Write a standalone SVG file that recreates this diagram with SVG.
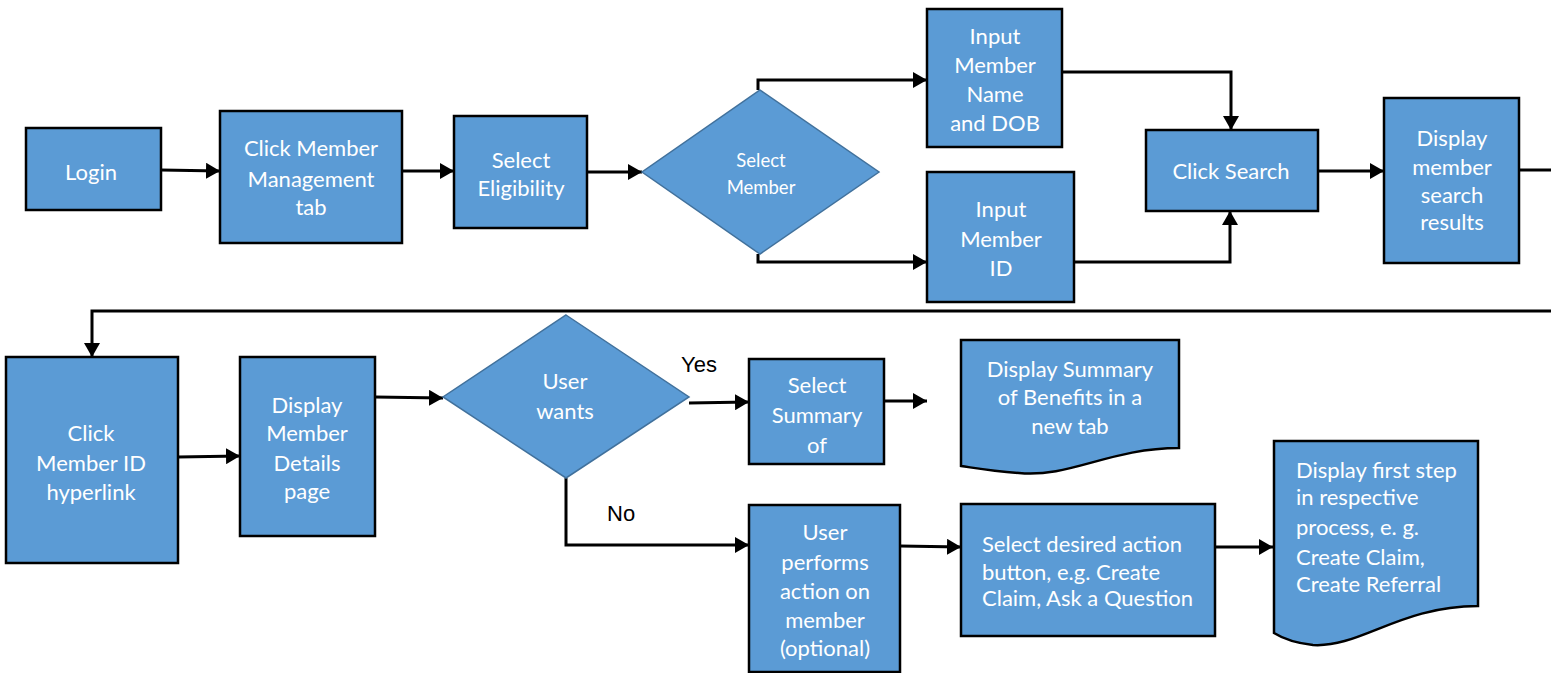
<svg xmlns="http://www.w3.org/2000/svg" width="1551" height="673" viewBox="0 0 1551 673">
<defs>
<marker id="ah" markerUnits="userSpaceOnUse" markerWidth="14" markerHeight="16" refX="14" refY="8" orient="auto">
<path d="M0,0 L14,8 L0,16 Z" fill="#000"/>
</marker>
<style>
.box{fill:#5B9BD5;stroke:#000;stroke-width:2.5}
.dia{fill:#5B9BD5;stroke:#41719C;stroke-width:1.5}
.t{font-family:Lato,"Open Sans",sans-serif;font-size:22px;fill:#fff;text-anchor:middle}
.tl{text-anchor:start}
.ts{font-size:18.5px}
.lbl{font-family:"Liberation Sans",Arial,sans-serif;font-size:22px;fill:#000}
.c{fill:none;stroke:#000;stroke-width:3}
</style>
</defs>
<rect width="1551" height="673" fill="#fff"/>
<g id="connectors">
<path class="c" d="M161,170 L220,171" marker-end="url(#ah)"/>
<path class="c" d="M402,171 L454,171" marker-end="url(#ah)"/>
<path class="c" d="M587,172 L642,172" marker-end="url(#ah)"/>
<path class="c" d="M758,90 L758,80 L927,80" marker-end="url(#ah)"/>
<path class="c" d="M758,254 L758,262 L927,262" marker-end="url(#ah)"/>
<path class="c" d="M1062,72 L1231,72 L1231,130" marker-end="url(#ah)"/>
<path class="c" d="M1074,262 L1230,262 L1230,211" marker-end="url(#ah)"/>
<path class="c" d="M1318,171 L1384,171" marker-end="url(#ah)"/>
<path class="c" d="M1519,170 L1551,170"/>
<path class="c" d="M1551,311 L92,311 L92,357" marker-end="url(#ah)"/>
<path class="c" d="M178,457 L240,456" marker-end="url(#ah)"/>
<path class="c" d="M375,397 L443,398" marker-end="url(#ah)"/>
<path class="c" d="M689,403 L749,402" marker-end="url(#ah)"/>
<path class="c" d="M884,401 L927,401" marker-end="url(#ah)"/>
<path class="c" d="M566,478 L566,545 L749,545" marker-end="url(#ah)"/>
<path class="c" d="M900,546 L961,547" marker-end="url(#ah)"/>
<path class="c" d="M1215,547 L1273,547" marker-end="url(#ah)"/>
<text class="lbl" x="681" y="372">Yes</text>
<text class="lbl" x="607" y="521">No</text>
</g>
<g id="login"><rect class="box" x="26" y="128" width="135" height="82"/><text class="t" x="91" y="180">Login</text></g>
<g id="click-mm"><rect class="box" x="220" y="111" width="182" height="132"/><text class="t" x="311" y="156">Click Member</text><text class="t" x="311" y="187">Management</text><text class="t" x="311" y="215">tab</text></g>
<g id="select-elig"><rect class="box" x="454" y="116" width="133" height="112"/><text class="t" x="521" y="168">Select</text><text class="t" x="521" y="196">Eligibility</text></g>
<g id="select-member"><polygon class="dia" points="760,90 879,172 760,254 642,172"/><text class="t ts" x="761" y="167">Select</text><text class="t ts" x="761" y="194">Member</text></g>
<g id="input-name"><rect class="box" x="927" y="9" width="135" height="138"/><text class="t" x="995" y="44">Input</text><text class="t" x="995" y="73">Member</text><text class="t" x="995" y="102">Name</text><text class="t" x="995" y="131">and DOB</text></g>
<g id="input-id"><rect class="box" x="927" y="172" width="147" height="130"/><text class="t" x="1001" y="217">Input</text><text class="t" x="1001" y="247">Member</text><text class="t" x="1001" y="276">ID</text></g>
<g id="click-search"><rect class="box" x="1146" y="130" width="172" height="81"/><text class="t" x="1231" y="179">Click Search</text></g>
<g id="display-results"><rect class="box" x="1384" y="98" width="135" height="165"/><text class="t" x="1452" y="146">Display</text><text class="t" x="1452" y="175">member</text><text class="t" x="1452" y="203">search</text><text class="t" x="1452" y="230">results</text></g>
<g id="click-id"><rect class="box" x="6" y="357" width="172" height="206"/><text class="t" x="91" y="441">Click</text><text class="t" x="91" y="471">Member ID</text><text class="t" x="91" y="500">hyperlink</text></g>
<g id="display-details"><rect class="box" x="240" y="357" width="135" height="179"/><text class="t" x="307" y="413">Display</text><text class="t" x="307" y="441">Member</text><text class="t" x="307" y="471">Details</text><text class="t" x="307" y="499">page</text></g>
<g id="user-wants"><polygon class="dia" points="566,315 689,397 566,478 443,397"/><text class="t" x="565" y="389">User</text><text class="t" x="565" y="419">wants</text></g>
<g id="select-summary"><rect class="box" x="749" y="359" width="135" height="105"/><text class="t" x="817" y="393">Select</text><text class="t" x="817" y="423">Summary</text><text class="t" x="817" y="453">of</text></g>
<g id="display-summary"><path class="box" d="M961,340 L1179,340 L1179,448 C1110,448 1070,478 1019,473 C990,471 975,468 961,466 Z"/><text class="t" x="1070" y="377">Display Summary</text><text class="t" x="1070" y="405">of Benefits in a</text><text class="t" x="1070" y="434">new tab</text></g>
<g id="user-performs"><rect class="box" x="749" y="505" width="151" height="167"/><text class="t" x="825" y="540">User</text><text class="t" x="825" y="570">performs</text><text class="t" x="825" y="599">action on</text><text class="t" x="825" y="628">member</text><text class="t" x="825" y="656">(optional)</text></g>
<g id="select-action"><rect class="box" x="961" y="504" width="254" height="132"/><text class="t tl" x="982" y="552">Select desired action</text><text class="t tl" x="982" y="580">button, e.g. Create</text><text class="t tl" x="982" y="606">Claim, Ask a Question</text></g>
<g id="display-first"><path class="box" d="M1274,441 L1478,441 L1478,606 C1400,606 1360,648 1313,645 C1295,643 1282,638 1274,633 Z"/><text class="t tl" x="1296" y="478">Display first step</text><text class="t tl" x="1296" y="505">in respective</text><text class="t tl" x="1296" y="535">process, e. g.</text><text class="t tl" x="1296" y="565">Create Claim,</text><text class="t tl" x="1296" y="592">Create Referral</text></g>
</svg>
